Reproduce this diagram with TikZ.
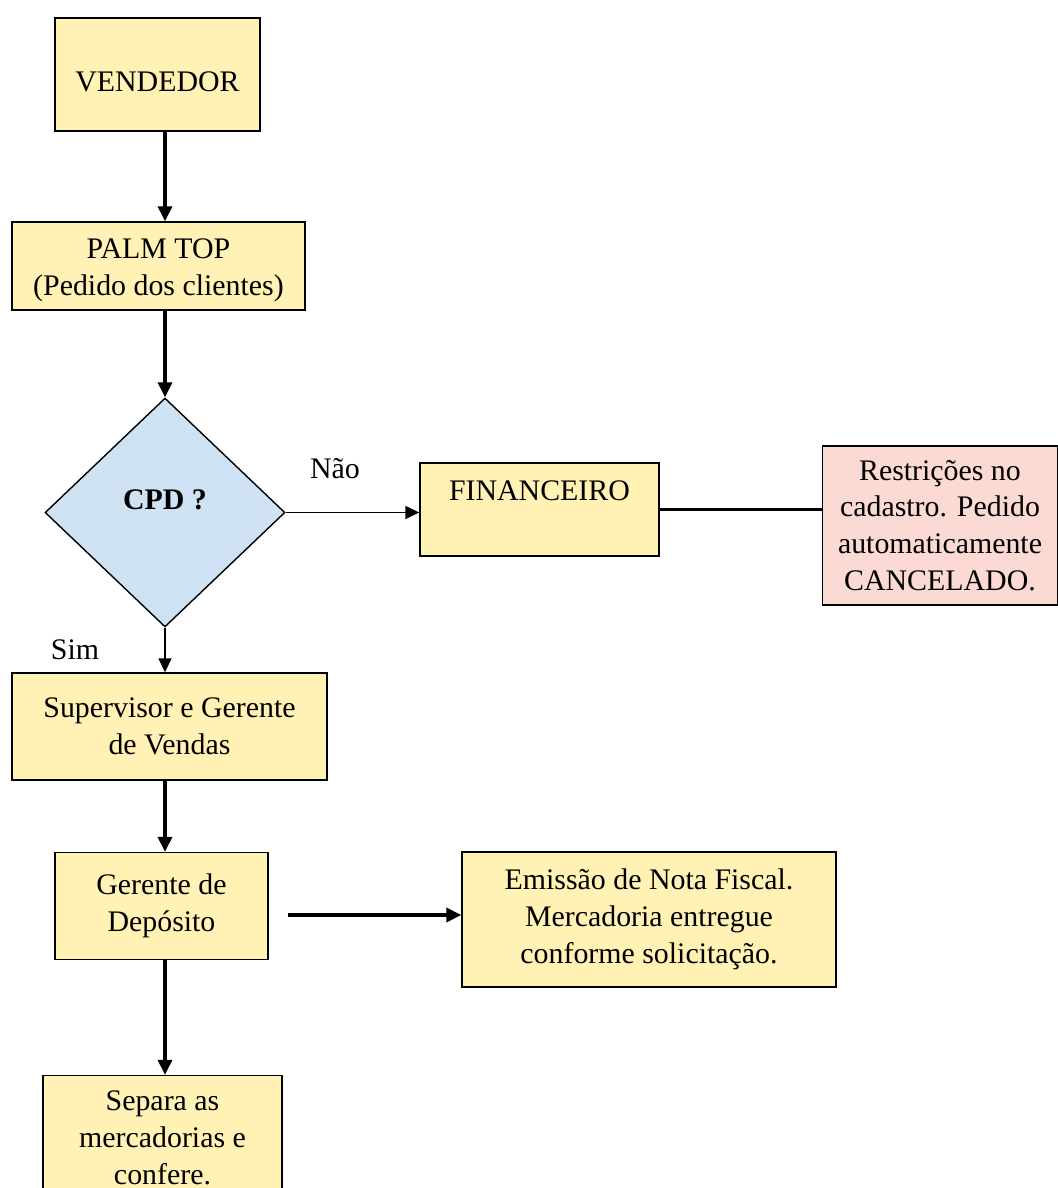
\documentclass[tikz,border=0pt]{standalone}
\usepackage{fontspec}
\setmainfont{Liberation Serif}
\usetikzlibrary{shapes.geometric,arrows.meta}
\definecolor{boxyellow}{RGB}{255,242,180}
\definecolor{boxpink}{RGB}{250,218,210}
\definecolor{boxblue}{RGB}{207,226,243}
\tikzset{
	box/.style={draw, line width=0.8pt, fill=boxyellow, align=center, inner sep=2pt},
	decision/.style={diamond, draw, line width=0.8pt, fill=boxblue, inner sep=0pt,
		minimum width=4.8cm, minimum height=4.58cm, text depth=0.5cm},
	flow/.style={-{Triangle[width=0.28cm,length=0.3cm]}, line width=2pt},
	thinflow/.style={-{Triangle[width=0.26cm,length=0.28cm]}, line width=0.8pt}
}
\begin{document}
\begin{tikzpicture}[x=0.02cm, y=-0.02cm, font=\fontsize{17}{21}\selectfont]
			\useasboundingbox (0,0) rectangle (1058,1188);
			\node[box, minimum width=4.1cm, minimum height=2.26cm, text height=0.68cm] (vend) at (157.5,74.5) {VENDEDOR};
			\node[box, minimum width=5.86cm, minimum height=1.76cm, text height=1.32cm] (palm) at (158.5,266) {PALM TOP\\(Pedido dos clientes)};
			\node[decision] (cpd) at (165,512.5) {\textbf{CPD ?}};
			\node[box, minimum width=4.78cm, minimum height=1.86cm, text depth=0.75cm] (fin) at (539.5,509.5) {FINANCEIRO};
			\node[box, fill=boxpink, minimum width=4.7cm, minimum height=3.18cm] (rest) at (940,525.5)
				{Restrições no\\cadastro. Pedido\\automaticamente\\CANCELADO.};
			\node[box, minimum width=6.3cm, minimum height=2.14cm] (sup) at (169.5,726.5) {Supervisor e Gerente\\de Vendas};
			\node[box, minimum width=4.26cm, minimum height=2.14cm] (ger) at (161.5,906) {Gerente de\\Depósito};
			\node[box, minimum width=7.48cm, minimum height=2.7cm] (emi) at (649,919.5)
				{Emissão de Nota Fiscal.\\Mercadoria entregue\\conforme solicitação.};
			\node[box, minimum width=4.78cm, minimum height=2.5cm] (sep) at (162.5,1138)
				{Separa as\\mercadorias e\\confere.};
			\node (nao) at (335,469) {Não};
			\node (sim) at (75,650) {Sim};

			\coordinate (col) at (165,0);
			\foreach \a/\b in {vend/palm, palm/cpd, sup/ger, ger/sep}{
				\draw[flow] (col |- \a.south) -- (col |- \b.north);
			}
			\draw[thinflow] (cpd.south) -- (col |- sup.north);
			\draw[thinflow] (cpd.east) -- (fin.west |- cpd.east);
			\draw[line width=2pt] (fin.east) -- (rest.west |- fin.east);
			\coordinate (gout) at ([yshift=-0.18cm]ger.east);
			\draw[flow, shorten <=0.38cm] (gout) -- (emi.west |- gout);

		\end{tikzpicture}
\end{document}
